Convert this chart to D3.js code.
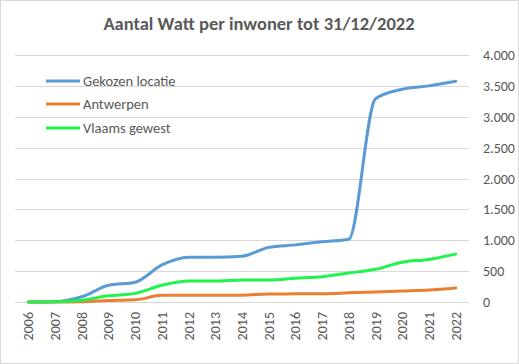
<!DOCTYPE html>
<html><head><meta charset="utf-8">
<script src="https://cdn.jsdelivr.net/npm/d3@7"></script>
<style>body{margin:0;background:#fff}svg{display:block}text{font-family:Carlito,"Liberation Sans",Arial,sans-serif}</style>
</head><body>
<script>
const years = ["2006","2007","2008","2009","2010","2011","2012","2013","2014","2015","2016","2017","2018","2019","2020","2021","2022"];
const gekozen = [0,5,85,270,320,600,725,725,740,885,925,975,1015,3290,3445,3500,3575];
const antwerpen = [0,0,5,25,35,108,108,108,110,130,132,135,148,162,178,195,228];
const vlaams = [0,5,30,100,140,270,340,340,356,358,385,410,470,530,645,690,775];
const yTicks = [0,500,1000,1500,2000,2500,3000,3500,4000];
const seriesNames = ["Gekozen locatie","Antwerpen","Vlaams gewest"];
const colors = ["#5B9BD5","#ED7D31","#21F34D"];
const title = "Aantal Watt per inwoner tot 31/12/2022";

const W=519,H=364;
const svg=d3.select("body").append("svg").attr("width",W).attr("height",H);
svg.append("rect").attr("x",0.5).attr("y",0.5).attr("width",W-1).attr("height",H-1).attr("fill","#fff").attr("stroke","#d9d9d9");
const x=d3.scaleBand().domain(years).range([15,469]);
const y=d3.scaleLinear().domain([0,4000]).range([302,55]);
const fmt=d=>d3.format(",")(d).replace(/,/g,".");
svg.append("g").selectAll("line").data(yTicks).join("line")
 .attr("x1",15).attr("x2",469).attr("y1",d=>Math.round(y(d))+0.5).attr("y2",d=>Math.round(y(d))+0.5)
 .attr("stroke","#d9d9d9").attr("stroke-width",1);
svg.append("g").selectAll("text").data(yTicks).join("text")
 .attr("x",483).attr("y",d=>y(d)+5).attr("fill","#595959").attr("font-size",14).text(fmt);
svg.append("g").selectAll("text").data(years).join("text")
 .attr("transform",d=>`translate(${x(d)+x.bandwidth()/2+5},312) rotate(-90)`)
 .attr("text-anchor","end").attr("fill","#595959").attr("font-size",14).text(d=>d);
const line=d3.line().x((d,i)=>x(years[i])+x.bandwidth()/2).y(d=>y(d)).curve(d3.curveMonotoneX);
[gekozen,antwerpen,vlaams].forEach((s,i)=>{
 svg.append("path").attr("d",line(s)).attr("fill","none").attr("stroke",colors[i]).attr("stroke-width",3).attr("stroke-linecap","round");
});
svg.append("text").attr("x",259).attr("y",30).attr("text-anchor","middle").attr("font-weight","bold").attr("font-size",18.5).attr("fill","#595959").text(title);
const lg=[81,104,128];
seriesNames.forEach((n,i)=>{
 svg.append("line").attr("x1",46).attr("x2",80).attr("y1",lg[i]).attr("y2",lg[i]).attr("stroke",colors[i]).attr("stroke-width",3);
 svg.append("text").attr("x",83).attr("y",lg[i]+5).attr("font-size",14.5).attr("fill","#595959").text(n);
});
</script>
</body></html>
